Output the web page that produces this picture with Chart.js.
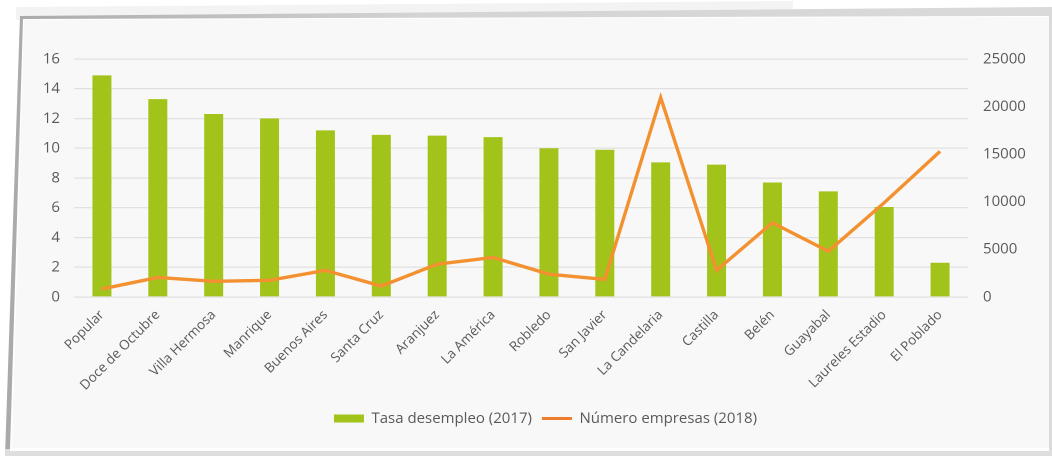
<!DOCTYPE html>
<html>
<head>
<meta charset="utf-8">
<script src="https://cdn.jsdelivr.net/npm/chart.js@4.4.1/dist/chart.umd.min.js"></script>
<style>
  html, body { margin:0; padding:0; background:#ffffff; }
  body { width:1052px; height:457px; overflow:hidden; position:relative; }
  .layer { position:absolute; left:0; top:0; width:1052px; height:457px; }
  #paper { background:#f3f3f3; clip-path: polygon(16px 7px, 793px 1px, 793px 14px, 16px 20px); }
  #border { background:linear-gradient(to right, #a9a9a9, #d4d4d4 40%, #dadada); clip-path: polygon(20px 16px, 1052px 7px, 1052px 456px, 5px 456px); }
  #bottomfade { background:#dedede; clip-path: polygon(5px 449px, 1052px 449px, 1052px 456px, 5px 456px); }
  #whiteline { background:#ffffff; clip-path: polygon(23px 19px, 1049px 16px, 1049px 451px, 10px 451px); }
  #panel { background:#f8f8f8; clip-path: polygon(24px 20px, 1049px 17px, 1049px 448px, 12px 448px); }
  #wrap { position:absolute; left:0; top:0; width:1052px; height:457px; }
</style>
</head>
<body>
<div class="layer" id="paper"></div>
<div class="layer" id="border"></div>
<div class="layer" id="bottomfade"></div>
<div class="layer" id="whiteline"></div>
<div class="layer" id="panel"></div>
<div id="wrap"><canvas id="c"></canvas></div>
<script>
const categories = ["Popular", "Doce de Octubre", "Villa Hermosa", "Manrique", "Buenos Aires", "Santa Cruz", "Aranjuez", "La América", "Robledo", "San Javier", "La Candelaria", "Castilla", "Belén", "Guayabal", "Laureles Estadio", "El Poblado"];
const tasaDesempleo2017 = [14.9, 13.3, 12.3, 12.0, 11.2, 10.9, 10.85, 10.75, 10.0, 9.9, 9.05, 8.9, 7.7, 7.1, 6.05, 2.3];
const numeroEmpresas2018 = [850, 2050, 1650, 1750, 2800, 1150, 3450, 4150, 2400, 1850, 20950, 2800, 7800, 4800, 9900, 15300];
const leftTicks = [0, 2, 4, 6, 8, 10, 12, 14, 16];
const rightTicks = [0, 5000, 10000, 15000, 20000, 25000];
const seriesNames = ["Tasa desempleo (2017)", "Número empresas (2018)"];

const FONT = "'Open Sans', 'DejaVu Sans', sans-serif";
const TXT = '#595959';
const GREEN = '#A2C41A';
const ORANGE = '#F39130';

new Chart(document.getElementById('c'), {
  type: 'bar',
  data: {
    labels: categories,
    datasets: [
      {
        type: 'bar',
        label: seriesNames[0],
        data: tasaDesempleo2017,
        backgroundColor: GREEN,
        borderWidth: 0,
        categoryPercentage: 1.0,
        barPercentage: 0.34,
        yAxisID: 'y',
        order: 2
      },
      {
        type: 'line',
        label: seriesNames[1],
        data: numeroEmpresas2018,
        borderColor: ORANGE,
        backgroundColor: ORANGE,
        borderWidth: 3.4,
        pointRadius: 0,
        tension: 0,
        fill: false,
        yAxisID: 'y1',
        order: 1
      }
    ]
  },
  options: {
    responsive: true,
    maintainAspectRatio: false,
    animation: false,
    devicePixelRatio: 2,
    layout: { padding: { left: 40, right: 1, top: 59, bottom: 21 } },
    plugins: {
      tooltip: { enabled: false },
      legend: {
        position: 'bottom',
        align: 'center',
        labels: {
          color: TXT,
          font: { family: FONT, size: 15 },
          usePointStyle: true,
          pointStyleWidth: 30,
          boxHeight: 8,
          padding: 10,
          sort: (a, b) => a.datasetIndex - b.datasetIndex,
          generateLabels: (chart) => {
            const items = Chart.defaults.plugins.legend.labels.generateLabels(chart);
            items.forEach(it => {
              if (it.datasetIndex === 0) {
                it.pointStyle = 'rect';
                it.fillStyle = GREEN;
                it.strokeStyle = GREEN;
                it.lineWidth = 0;
              } else {
                it.pointStyle = 'line';
                it.strokeStyle = '#EE7E2E';
                it.fillStyle = '#EE7E2E';
                it.lineWidth = 3;
              }
            });
            return items;
          }
        }
      }
    },
    scales: {
      x: {
        grid: { display: false },
        border: { display: false },
        ticks: {
          color: TXT,
          font: { family: FONT, size: 13.5 },
          minRotation: 45,
          maxRotation: 45,
          autoSkip: false,
          padding: 2
        },
        afterFit: (s) => { s.height = 104; }
      },
      y: {
        position: 'left',
        min: 0,
        max: 16,
        afterBuildTicks: (s) => { s.ticks = leftTicks.map(v => ({ value: v })); },
        grid: { color: '#e1e1e1', lineWidth: 1.2, drawTicks: false },
        border: { display: false },
        ticks: { color: TXT, font: { family: FONT, size: 15 }, padding: 14 },
        afterFit: (s) => { s.width = 34; }
      },
      y1: {
        position: 'right',
        min: 0,
        max: 25000,
        afterBuildTicks: (s) => { s.ticks = rightTicks.map(v => ({ value: v })); },
        grid: { drawOnChartArea: false, drawTicks: false },
        border: { display: false },
        ticks: { color: TXT, font: { family: FONT, size: 15 }, padding: 15, callback: (v) => String(v) },
        afterFit: (s) => { s.width = 83; }
      }
    }
  }
});
</script>
</body>
</html>
